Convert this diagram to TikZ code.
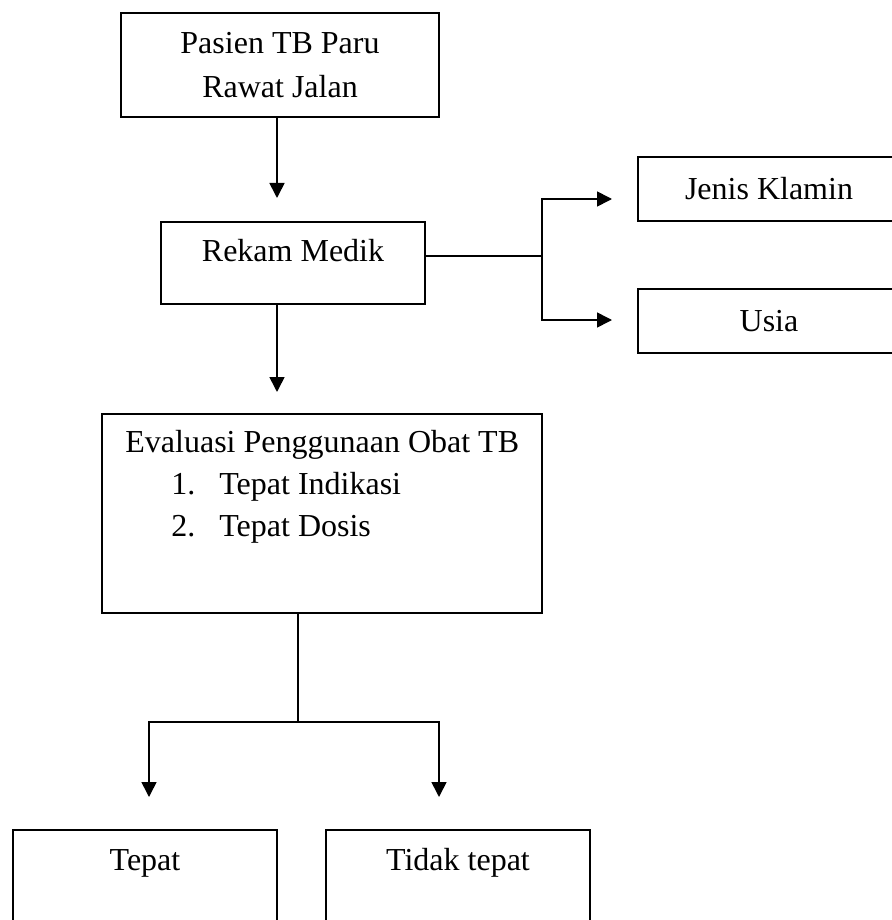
\documentclass[tikz,border=0pt]{standalone}
\usepackage{fontspec}
\setmainfont{Liberation Serif}
\usepackage{tikz}
\usetikzlibrary{positioning,arrows.meta,calc}

\begin{document}
\begin{tikzpicture}[
  x=1pt, y=-1pt,
  kotak/.style={draw, rectangle, line width=1.6pt, inner sep=0pt,
    font=\fontsize{32}{44}\selectfont},
  panah/.style={line width=1.6pt, -{Triangle[length=15pt,width=15pt]}},
  garis/.style={line width=1.6pt}
]
\useasboundingbox (0,0) rectangle (891,920);
% alur utama
\node[kotak, minimum width=318pt, minimum height=104pt, align=center]
  (pasien) at (280,65) {Pasien TB Paru\\Rawat Jalan};
\node[kotak, minimum width=264pt, text height=40pt, text depth=42pt, anchor=north]
  (rekam) at (293,221) {Rekam Medik};
\node[kotak, minimum width=440pt, minimum height=199pt]
  (eval) at (322,513.5) {};
\node[font=\fontsize{32}{42}\selectfont, align=left, anchor=north west, inner sep=0pt]
  (evalteks) at ([xshift=24pt,yshift=-17pt]eval.north west)
  {Evaluasi Penggunaan Obat TB\\
   \hspace*{46pt}\makebox[48pt][l]{1.}Tepat Indikasi\\
   \hspace*{46pt}\makebox[48pt][l]{2.}Tepat Dosis};
% karakteristik
\node[kotak, minimum width=262pt, minimum height=64pt]
  (jk) at (769,189) {Jenis Klamin};
\node[kotak, minimum width=262pt, minimum height=64pt]
  (usia) at (769,321) {Usia};
% hasil
\node[kotak, minimum width=264pt, text height=41pt, text depth=75pt, anchor=north]
  (tepat) at (145,829) {Tepat};
\node[kotak, minimum width=264pt, text height=41pt, text depth=75pt, anchor=north]
  (tidak) at (458,829) {Tidak tepat};

% titik bantu
\coordinate (ujung1) at (277,198);
\coordinate (ujung2) at (277,392);
\coordinate (cabang) at (542,256);
\coordinate (ujungjk) at (612,199);
\coordinate (ujungusia) at (612,320);
\coordinate (pisah) at (298,722);
\coordinate (ujungtepat) at (149,797);
\coordinate (ujungtidak) at (439,797);

% panah
\draw[panah] (pasien.south -| ujung1) -- (ujung1);
\draw[panah] (rekam.south -| ujung2) -- (ujung2);
\draw[garis] (rekam.east |- cabang) -- (cabang);
\draw[panah] (cabang) |- (ujungjk);
\draw[panah] (cabang) |- (ujungusia);
\draw[garis] (eval.south -| pisah) -- (pisah);
\draw[panah] (pisah) -| (ujungtepat);
\draw[panah] (pisah) -| (ujungtidak);
\end{tikzpicture}
\end{document}
